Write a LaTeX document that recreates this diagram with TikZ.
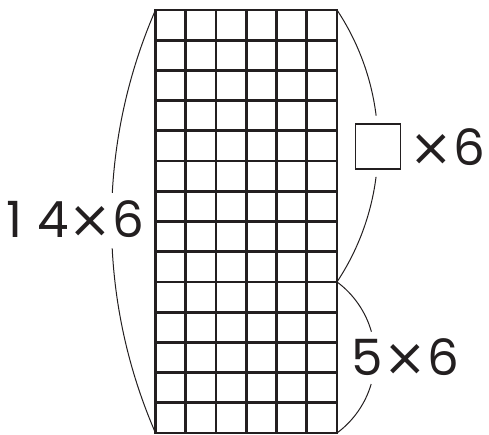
\documentclass[tikz,border=0pt]{standalone}
\usepackage{fontspec}
\setmainfont{Poppins}
\newfontfamily\crossfont{DejaVu Sans}
\definecolor{ink}{HTML}{231F20}
\newcommand\dg[1]{\makebox[38pt]{#1}}
\newcommand\tms{\makebox[38pt]{\raisebox{0pt}{\crossfont\fontsize{52}{60}\selectfont ×}}}
\begin{document}
\begin{tikzpicture}[x=1pt,y=1pt,
  gridline/.style={ink, line width=2.8pt},
  brace/.style={ink, line width=1pt},
  lbl/.style={ink, font=\fontsize{50}{60}\selectfont, inner sep=0pt, anchor=base}]
\useasboundingbox (0,0) rectangle (489,435);
\coordinate (tl) at (155.5,425);
\coordinate (tr) at (337,425);
\coordinate (bl) at (155.5,2);
\coordinate (br) at (337,2);
\coordinate (mr) at (337,153.07);
\foreach \i in {1,...,5} \draw[gridline] (155.5+30.25*\i,2) -- (155.5+30.25*\i,425);
\foreach \j in {1,...,13} \draw[gridline] (155.5,2+30.2143*\j) -- (337,2+30.2143*\j);
\draw[gridline] (bl) rectangle (tr);
% braces
\draw[brace] (tl) arc[start angle=156.5, end angle=176.9, radius=530.3];
\draw[brace] (bl) arc[start angle=203.5, end angle=182.9, radius=530.3];
\draw[brace] (tr) arc[start angle=33.55, end angle=7.07, radius=246.1];
\draw[brace] (mr) arc[start angle=-33.55, end angle=-7.24, radius=246.1];
\draw[brace] (mr) arc[start angle=53.44, end angle=15.93, radius=94];
\draw[brace] (br) arc[start angle=-53.44, end angle=-16.37, radius=94];
% blank box
\node[draw=ink, line width=1.5pt, minimum size=45pt, inner sep=0pt] (blank) at (377.9,288.7) {};
% labels
\node[lbl] (total) at (71.75,197) {\dg{1}\dg{4}\tms\dg{6}};
\node[lbl] (upper) at (450.75,269) {\tms\dg{6}};
\node[lbl] (lower) at (405.5,59) {\dg{5}\tms\dg{6}};
\end{tikzpicture}
\end{document}
